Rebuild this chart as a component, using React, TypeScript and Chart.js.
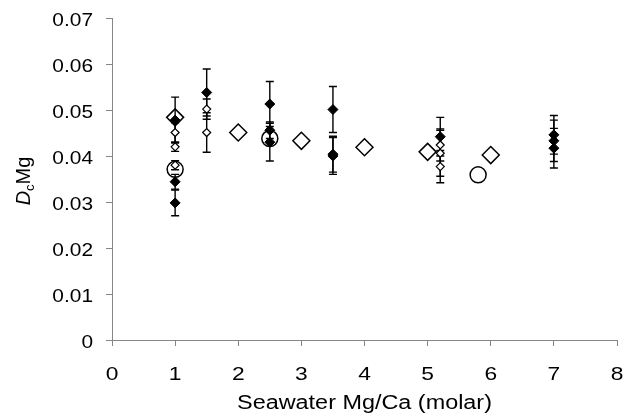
import React, { useEffect, useRef } from "react";
import { Chart, registerables } from "chart.js";

Chart.register(...registerables);

// ---- data ----
const filledX = [1, 1, 1, 1.5, 2.5, 2.5, 2.5, 3.5, 3.5, 3.5, 5.2, 7, 7, 7];
const filledY = [0.0478, 0.0344, 0.0298, 0.0538, 0.0513, 0.0456, 0.043, 0.0501, 0.0404, 0.04, 0.0442, 0.0446, 0.0433, 0.0417];
const filledErr = [0.005, 0.0016, 0.0028, 0.0051, 0.0049, 0.0018, 0.0041, 0.005, 0.0039, 0.004, 0.0042, 0.0042, 0.0045, 0.0043];

const openX = [1, 1, 1, 1.5, 1.5, 5.2, 5.2, 5.2];
const openY = [0.0451, 0.042, 0.038, 0.0502, 0.0451, 0.0424, 0.0406, 0.0377];
const openErr = [0.0021, 0.001, 0.001, 0.0022, 0.0043, 0.0035, 0.005, 0.0035];

const bigDiamondX = [1, 2, 3, 4, 5, 6];
const bigDiamondY = [0.0484, 0.0451, 0.0433, 0.0419, 0.0409, 0.0402];

const circleX = [1, 2.5, 5.8];
const circleY = [0.0371, 0.0438, 0.0359];

const xTickValues = [0, 1, 2, 3, 4, 5, 6, 7, 8];
const xTickLabels = ["0", "1", "2", "3", "4", "5", "6", "7", "8"];
const yTickValues = [0, 0.01, 0.02, 0.03, 0.04, 0.05, 0.06, 0.07];
const yTickLabels = ["0", "0.01", "0.02", "0.03", "0.04", "0.05", "0.06", "0.07"];

const xTitle = "Seawater Mg/Ca (molar)";
const yTitleParts = ["D", "c", "Mg"];

const pts = (xs: number[], ys: number[]) => xs.map((x, i) => ({ x, y: ys[i] }));

const FONT = '"Liberation Sans", Arial, sans-serif';

const errorBarPlugin = {
  id: "errorBars",
  beforeDatasetsDraw(chart: any) {
    const { ctx } = chart;
    const xs = chart.scales.x;
    const ys = chart.scales.y;
    ctx.save();
    ctx.strokeStyle = "#000";
    ctx.lineWidth = 1.4;
    chart.data.datasets.forEach((ds: any) => {
      if (!ds.errors) return;
      ds.data.forEach((p: any, i: number) => {
        const e = ds.errors[i];
        const px = xs.getPixelForValue(p.x);
        const top = ys.getPixelForValue(p.y + e);
        const bot = ys.getPixelForValue(p.y - e);
        ctx.beginPath();
        ctx.moveTo(px, top);
        ctx.lineTo(px, bot);
        ctx.moveTo(px - 4, top);
        ctx.lineTo(px + 4, top);
        ctx.moveTo(px - 4, bot);
        ctx.lineTo(px + 4, bot);
        ctx.stroke();
      });
    });
    ctx.restore();
  },
};

const drawStretched = (ctx: any, text: string, x: number, y: number, align: string, sx: number) => {
  ctx.save();
  ctx.translate(x, y);
  ctx.scale(sx, 1);
  ctx.textAlign = align;
  ctx.textBaseline = "alphabetic";
  ctx.fillText(text, 0, 0);
  ctx.restore();
};

const textPlugin = {
  id: "axisText",
  afterDraw(chart: any) {
    const { ctx, chartArea } = chart;
    const xs = chart.scales.x;
    const ys = chart.scales.y;
    ctx.save();
    ctx.fillStyle = "#000";
    ctx.font = `19px ${FONT}`;
    yTickValues.forEach((v, i) => {
      drawStretched(ctx, yTickLabels[i], chartArea.left - 19, ys.getPixelForValue(v) + 8, "right", 1.1);
    });
    xTickValues.forEach((v, i) => {
      drawStretched(ctx, xTickLabels[i], xs.getPixelForValue(v), 380, "center", 1.2);
    });
    ctx.font = `19.5px ${FONT}`;
    drawStretched(ctx, xTitle, (chartArea.left + chartArea.right) / 2, 409, "center", 1.2);

    // y title: italic D, subscript c, Mg
    const fD = `italic 20px ${FONT}`;
    const fc = `13px ${FONT}`;
    const fM = `20px ${FONT}`;
    ctx.font = fD;
    const wD = ctx.measureText(yTitleParts[0]).width;
    ctx.font = fc;
    const wc = ctx.measureText(yTitleParts[1]).width;
    ctx.font = fM;
    const wM = ctx.measureText(yTitleParts[2]).width;
    const total = wD + wc + wM;
    ctx.translate(29.5, 181);
    ctx.rotate(-Math.PI / 2);
    ctx.textAlign = "left";
    ctx.textBaseline = "alphabetic";
    let cx = -total / 2;
    ctx.font = fD;
    ctx.fillText(yTitleParts[0], cx, 0);
    cx += wD;
    ctx.font = fc;
    ctx.fillText(yTitleParts[1], cx, 4);
    cx += wc;
    ctx.font = fM;
    ctx.fillText(yTitleParts[2], cx, 0);
    ctx.restore();
  },
};

export default function App() {
  const ref = useRef<HTMLCanvasElement>(null);
  useEffect(() => {
    if (!ref.current) return;
    const chart = new Chart(ref.current, {
      type: "scatter",
      data: {
        datasets: [
          {
            label: "filled",
            data: pts(filledX, filledY),
            errors: filledErr,
            pointStyle: "rectRot",
            pointRadius: 5,
            backgroundColor: "#000",
            borderColor: "#000",
            borderWidth: 1,
          } as any,
          {
            label: "open",
            data: pts(openX, openY),
            errors: openErr,
            pointStyle: "rectRot",
            pointRadius: 4,
            backgroundColor: "#fff",
            borderColor: "#000",
            borderWidth: 1.2,
          } as any,
          {
            label: "bigDiamond",
            data: pts(bigDiamondX, bigDiamondY),
            pointStyle: "rectRot",
            pointRadius: 8.5,
            backgroundColor: "rgba(0,0,0,0)",
            borderColor: "#000",
            borderWidth: 1.5,
          },
          {
            label: "circle",
            data: pts(circleX, circleY),
            pointStyle: "circle",
            pointRadius: 8,
            backgroundColor: "rgba(0,0,0,0)",
            borderColor: "#000",
            borderWidth: 1.5,
          },
        ],
      },
      options: {
        responsive: false,
        animation: false,
        events: [],
        layout: { padding: { left: 0, top: 18, right: 15, bottom: 0 } },
        plugins: { legend: { display: false }, tooltip: { enabled: false } },
        scales: {
          x: {
            type: "linear",
            min: 0,
            max: 8,
            ticks: { display: false, stepSize: 1 },
            grid: { drawOnChartArea: false, drawTicks: true, tickLength: 6, color: "#868686", lineWidth: 1 },
            border: { color: "#868686", width: 1 },
            afterFit: (s: any) => {
              s.height = 76;
            },
          },
          y: {
            type: "linear",
            min: 0,
            max: 0.07,
            ticks: { display: false, stepSize: 0.01 },
            grid: { drawOnChartArea: false, drawTicks: true, tickLength: 6, color: "#868686", lineWidth: 1 },
            border: { color: "#868686", width: 1 },
            afterFit: (s: any) => {
              s.width = 112;
            },
          },
        },
      },
      plugins: [errorBarPlugin, textPlugin],
    });
    return () => chart.destroy();
  }, []);
  return (
    <div style={{ position: "fixed", left: 0, top: 0, width: 632, height: 416, background: "#fff" }}>
      <canvas ref={ref} width={632} height={416} style={{ width: 632, height: 416 }} />
    </div>
  );
}
